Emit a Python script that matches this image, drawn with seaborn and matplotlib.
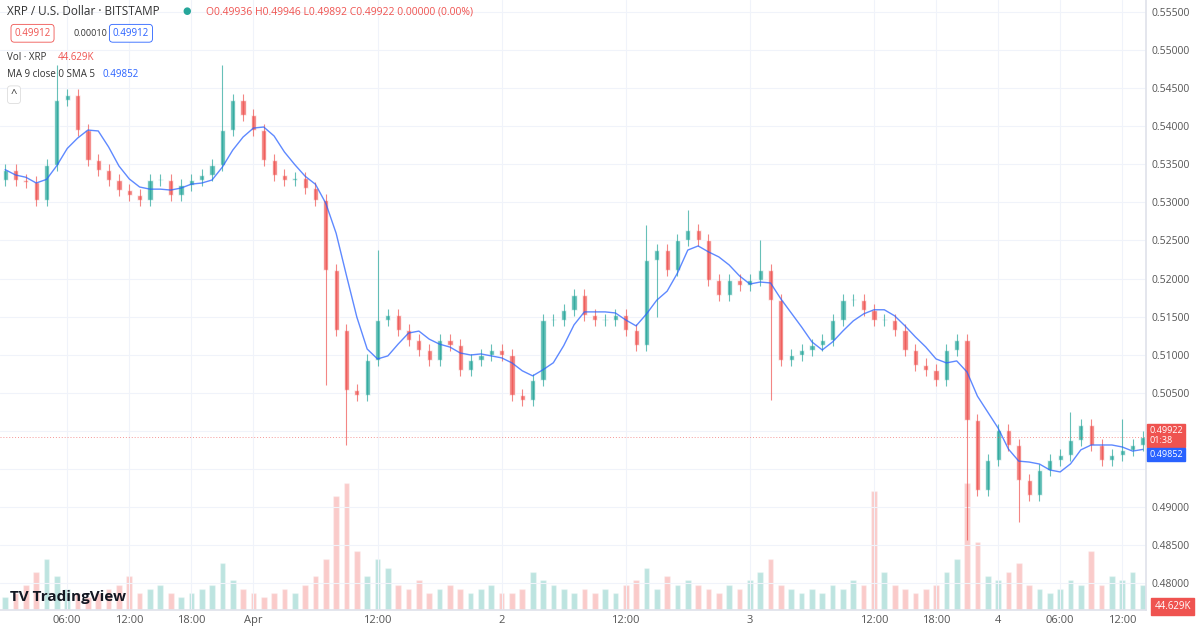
import numpy as np
import pandas as pd
import seaborn as sns
import matplotlib.pyplot as plt

# hourly closes from Mar 31 00:00 (XRP/USD, Bitstamp)
closes = [0.5343, 0.5329, 0.5327, 0.5303, 0.5349, 0.5434, 0.5441, 0.5395, 0.5356, 0.5343, 0.5329,
          0.5316, 0.5310, 0.5303, 0.5329, 0.5329, 0.5310, 0.5323, 0.5329, 0.5336, 0.5349, 0.5395,
          0.5434, 0.5415, 0.5395, 0.5356, 0.5336, 0.5329, 0.5332, 0.5319, 0.5303, 0.5211, 0.5132,
          0.5054, 0.5047, 0.5093, 0.5146, 0.5152, 0.5132, 0.5119, 0.5106, 0.5093, 0.5119, 0.5113,
          0.5080, 0.5093, 0.5100, 0.5106, 0.5100, 0.5047, 0.5041, 0.5067, 0.5146, 0.5146, 0.5159,
          0.5178, 0.5152, 0.5146, 0.5146, 0.5152, 0.5132, 0.5113, 0.5224, 0.5237, 0.5211, 0.5251,
          0.5264, 0.5251, 0.5198, 0.5178, 0.5198, 0.5192, 0.5198, 0.5211, 0.5172, 0.5093, 0.5100,
          0.5106, 0.5113, 0.5119, 0.5146, 0.5172, 0.5172, 0.5159, 0.5146, 0.5146, 0.5132, 0.5106,
          0.5087, 0.5080, 0.5067, 0.5106, 0.5119, 0.5014, 0.4922, 0.4962, 0.5001, 0.4981, 0.4935,
          0.4916, 0.4949, 0.4962, 0.4968, 0.4988, 0.5008, 0.4981, 0.4962, 0.4968, 0.4975, 0.4981,
          0.4992]
first_open = 0.5330
# wick extremes that stick out from the usual small wick
spike_highs = {5: 0.5480, 21: 0.5480, 36: 0.5237, 62: 0.5270, 66: 0.5290, 73: 0.5250, 103: 0.5025, 108: 0.5015}
spike_lows = {31: 0.5060, 33: 0.4981, 63: 0.5150, 74: 0.5041, 93: 0.4857, 98: 0.4880}
volumes = [15, 20, 30, 45, 60, 40, 25, 20, 15, 20, 25,
           30, 40, 20, 25, 30, 20, 15, 20, 25, 30, 55,
           35, 25, 20, 15, 20, 25, 20, 30, 40, 60, 135,
           150, 70, 40, 60, 50, 30, 25, 35, 20, 25, 30,
           25, 20, 25, 30, 20, 20, 25, 45, 35, 30, 25,
           20, 25, 20, 25, 20, 30, 35, 50, 25, 40, 30,
           35, 30, 25, 20, 30, 25, 35, 45, 60, 30, 25,
           20, 25, 20, 30, 25, 35, 30, 140, 45, 30, 25,
           20, 25, 30, 45, 60, 150, 80, 40, 35, 45, 55,
           30, 25, 20, 25, 35, 30, 70, 30, 40, 35, 45, 30]
tick_hours = [6, 12, 18, 24, 36, 48, 60, 72, 84, 90, 96, 102, 108]
tick_labels = ["06:00", "12:00", "18:00", "Apr", "12:00", "2", "12:00", "3", "12:00", "18:00", "4", "06:00", "12:00"]
price_ticks = [0.480, 0.485, 0.490, 0.495, 0.500, 0.505, 0.510, 0.515, 0.520, 0.525,
               0.530, 0.535, 0.540, 0.545, 0.550, 0.555]

UP, DN, BLUE = "#26a69a", "#ef5350", "#2962ff"

df = pd.DataFrame({"hour": np.arange(len(closes)), "close": closes, "volume": volumes})
df["open"] = [first_open] + closes[:-1]
df["high"] = df[["open", "close"]].max(axis=1) + 0.0008
df["low"] = df[["open", "close"]].min(axis=1) - 0.0008
for k, v in spike_highs.items():
    df.loc[k, "high"] = v
for k, v in spike_lows.items():
    df.loc[k, "low"] = v
df["ma"] = df["close"].rolling(5, min_periods=1).mean()
df["up"] = df["close"] >= df["open"]

sns.set_theme(style="white")
plt.rcParams["font.family"] = ["Open Sans", "DejaVu Sans"]

fig = plt.figure(figsize=(12, 6.4), dpi=100)
ax = fig.add_axes([0.0, 0.047, 0.955, 0.953])
vax = ax.twinx()

# volume pane
vax.bar(df["hour"], df["volume"], width=0.55,
        color=[UP if u else DN for u in df["up"]], alpha=0.3, zorder=1)
vax.set_ylim(0, 720)
vax.axis("off")

ax.set_zorder(vax.get_zorder() + 1)
ax.patch.set_visible(False)

# candles
for _, r in df.iterrows():
    c = UP if r["up"] else DN
    ax.vlines(r["hour"], r["low"], r["high"], color=c, lw=0.8, alpha=0.7)
    ax.bar(r["hour"], max(abs(r["close"] - r["open"]), 0.00015), bottom=min(r["open"], r["close"]),
           width=0.5, color=c, alpha=0.75)

sns.lineplot(data=df, x="hour", y="ma", ax=ax, color=BLUE, lw=1.0, alpha=0.75)

last = closes[-1]
ax.axhline(last, color=DN, lw=0.7, ls=(0, (1, 2)), alpha=0.6)

ax.set_xlim(-0.5, 110.3)
ax.set_ylim(0.47648, 0.55658)
ax.set_xticks(tick_hours)
ax.set_xticklabels(tick_labels, fontsize=8, color="#555")
ax.set_yticks(price_ticks)
# the 0.500 / 0.495 labels sit under the last-price boxes
ax.set_yticklabels(["" if p in (0.495, 0.500) else f"{p:.5f}" for p in price_ticks],
                   fontsize=7.5, color="#555")
ax.yaxis.tick_right()
ax.tick_params(axis="both", length=0, pad=4)
ax.grid(True, color="#f0f3fa", lw=0.8)
ax.set_xlabel("")
ax.set_ylabel("")
for s in ax.spines.values():
    s.set_visible(False)
ax.spines["right"].set_visible(True)
ax.spines["right"].set_color("#e0e3eb")
ax.spines["bottom"].set_visible(True)
ax.spines["bottom"].set_color("#e0e3eb")

# right axis price labels
ax.text(1.003, last + 0.0002, "0.49922\n01:38", transform=ax.get_yaxis_transform(), fontsize=6.5,
        color="white", va="center", ha="left", linespacing=1.1,
        bbox=dict(boxstyle="square,pad=0.25", fc=DN, ec=DN))
ax.text(1.003, 0.49852 - 0.0016, "0.49852", transform=ax.get_yaxis_transform(), fontsize=6.5,
        color="white", va="center", ha="left",
        bbox=dict(boxstyle="square,pad=0.25", fc=BLUE, ec=BLUE))
fig.text(0.962, 0.052, "44.629K", fontsize=7, color="white", va="center",
         bbox=dict(boxstyle="square,pad=0.3", fc=DN, ec=DN))

# header
fig.text(0.006, 0.982, "XRP / U.S. Dollar · BITSTAMP", fontsize=8.5, color="#333", va="center")
fig.text(0.152, 0.982, "●", fontsize=7, color=UP, va="center")
fig.text(0.172, 0.982, "O0.49936 H0.49946 L0.49892 C0.49922 0.00000 (0.00%)", fontsize=7.5,
         color=DN, va="center")
fig.text(0.012, 0.948, "0.49912", fontsize=7, color=DN, va="center",
         bbox=dict(boxstyle="round,pad=0.35", fc="white", ec=DN, lw=0.6))
fig.text(0.0615, 0.948, "0.00010", fontsize=6.5, color="#333", va="center")
fig.text(0.094, 0.948, "0.49912", fontsize=7, color=BLUE, va="center",
         bbox=dict(boxstyle="round,pad=0.35", fc="white", ec=BLUE, lw=0.6))
fig.text(0.006, 0.91, "Vol · XRP", fontsize=7, color="#333", va="center")
fig.text(0.048, 0.91, "44.629K", fontsize=7, color=DN, va="center")
fig.text(0.006, 0.883, "MA 9 close 0 SMA 5", fontsize=7, color="#333", va="center")
fig.text(0.085, 0.883, "0.49852", fontsize=7, color=BLUE, va="center")
fig.text(0.009, 0.852, "^", fontsize=8, color="#333", va="center",
         bbox=dict(boxstyle="round,pad=0.3", fc="white", ec="#ddd", lw=0.6))
fig.text(0.008, 0.067, "TV TradingView", fontsize=11, fontweight="bold", color="#131722", va="center")

fig.savefig("out.png", dpi=100)
